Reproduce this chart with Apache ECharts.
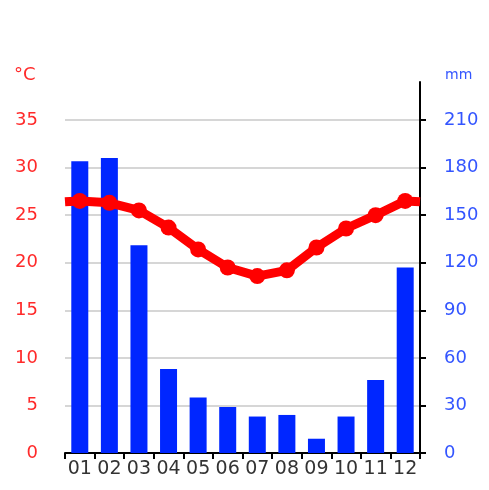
<!DOCTYPE html>
<html>
<head>
<meta charset="utf-8">
<script src="https://cdn.jsdelivr.net/npm/echarts@6/dist/echarts.min.js"></script>
<style>
html,body{margin:0;padding:0;background:#fff;}
#c{width:489px;height:490px;}
</style>
</head>
<body>
<div id="c"></div>
<script>
const months = ['01','02','03','04','05','06','07','08','09','10','11','12'];
const precipitation = [184, 186, 131, 53, 35, 29, 23, 24, 9, 23, 46, 117];
const temperature = [26.5, 26.3, 25.5, 23.7, 21.4, 19.5, 18.6, 19.2, 21.6, 23.6, 25.0, 26.5];
const tempEdgeStart = 26.4;
const tempEdgeEnd = 26.4;
const tempTicks = [0, 5, 10, 15, 20, 25, 30, 35];
const precTicks = [0, 30, 60, 90, 120, 150, 180, 210];

const lineData = [{value: [0, tempEdgeStart], symbol: 'none'}]
  .concat(temperature.map((t, i) => [i + 0.5, t]))
  .concat([{value: [12, tempEdgeEnd], symbol: 'none'}]);

const chart = echarts.init(document.getElementById('c'), null, {renderer: 'canvas'});
const font = 'DejaVu Sans';
chart.setOption({
  animation: false,
  backgroundColor: '#fff',
  grid: {left: 65, right: 69, top: 82, bottom: 37},
  graphic: [
    {type: 'text', left: 14, top: 66, style: {text: '°C', font: '18px "DejaVu Sans"', fill: '#ff2a2a'}},
    {type: 'text', left: 445, top: 68, style: {text: 'mm', font: '14px "DejaVu Sans"', fill: '#3355ff'}}
  ],
  xAxis: [
    {
      type: 'category', data: months, boundaryGap: true,
      axisLine: {show: true, lineStyle: {color: '#000', width: 2}},
      axisTick: {show: true, length: 6, lineStyle: {color: '#000', width: 2}},
      axisLabel: {color: '#333', fontSize: 19, fontFamily: font, margin: 7, interval: 0},
      splitLine: {show: false}
    },
    {
      type: 'value', min: 0, max: 12, show: false
    }
  ],
  yAxis: [
    {
      type: 'value', min: 0, max: 39, interval: 5, position: 'left',
      axisLine: {show: false}, axisTick: {show: false},
      axisLabel: {color: '#ff2a2a', fontSize: 18, fontFamily: font, margin: 27, customValues: tempTicks},
      splitLine: {show: true, showMaxLine: false, lineStyle: {color: '#c8c8c8', width: 1.5}}
    },
    {
      type: 'value', min: 0, max: 234, interval: 30, position: 'right',
      axisLine: {show: true, lineStyle: {color: '#000', width: 2}},
      axisTick: {show: true, length: 6, inside: false, lineStyle: {color: '#000', width: 2}, customValues: precTicks},
      axisLabel: {color: '#3355ff', fontSize: 18, fontFamily: font, margin: 24, customValues: precTicks},
      splitLine: {show: false}
    }
  ],
  series: [
    {
      type: 'bar', data: precipitation, xAxisIndex: 0, yAxisIndex: 1,
      barWidth: 17, itemStyle: {color: '#0026ff'}, z: 2
    },
    {
      type: 'line', data: lineData, xAxisIndex: 1, yAxisIndex: 0,
      symbol: 'circle', symbolSize: 16, showSymbol: true,
      lineStyle: {color: '#ff0000', width: 9},
      itemStyle: {color: '#ff0000'}, z: 3
    }
  ]
});
</script>
</body>
</html>
